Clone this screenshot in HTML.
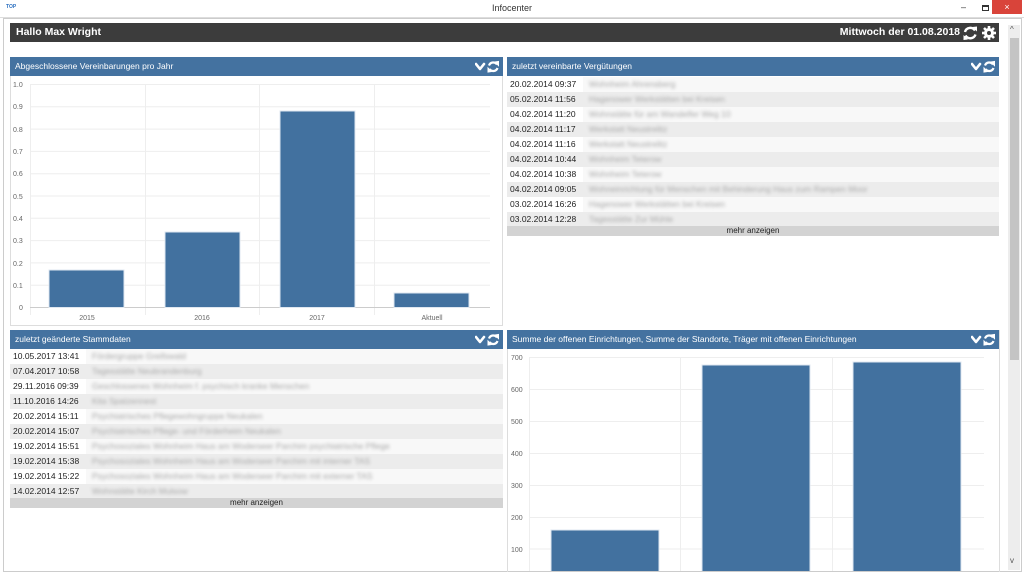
<!DOCTYPE html>
<html><head><meta charset="utf-8"><style>
*{margin:0;padding:0;box-sizing:border-box}
body{width:1024px;height:576px;overflow:hidden;background:#fff;font-family:"Liberation Sans",sans-serif;position:relative}
.a{position:absolute}
.hd{background:#4472a0;color:#fff;font-size:8.5px;line-height:19px;padding-left:5px}
.ic{position:absolute;right:4px;top:3px;width:24px;height:13px}
.row{position:absolute;height:15px;font-size:8.5px;line-height:15px;color:#222}
.row .d{position:absolute;left:0;top:0;width:76px;height:15px;padding-left:3px}
.row .t{position:absolute;left:82px;top:0;color:#a8a8a8;filter:blur(1.6px);white-space:nowrap}
.more{position:absolute;height:10px;background:#d3d3d3;font-size:8px;line-height:10px;text-align:center;color:#222}
</style></head><body>
<svg width="0" height="0" style="position:absolute"><defs>
<g id="ico"><path d="M1 4 L5 9 L9 4" stroke="#fff" stroke-width="2.6" fill="none" stroke-linecap="round" stroke-linejoin="round"/>
<path d="M14 5.5 A4.5 4.5 0 0 1 22 4.5 M22.5 8 A4.5 4.5 0 0 1 14.5 9" stroke="#fff" stroke-width="2.2" fill="none"/>
<path d="M20 2 L23.5 5.5 L23.5 1.5Z M16.5 11.5 L13 8 L13 12Z" fill="#fff" stroke="#fff" stroke-width="1"/></g>
</defs></svg>
<!-- window frame -->
<div class="a" style="left:0;top:0;width:1024px;height:18px;background:#fff;border-bottom:1px solid #ddd"></div>
<div class="a" style="left:6px;top:4px;font-size:5px;color:#2a6fc0;font-weight:bold">TOP</div>
<div class="a" style="left:0;top:3px;width:1024px;text-align:center;font-size:9px;color:#333">Infocenter</div>
<div class="a" style="left:961px;top:2px;font-size:9px;color:#333">–</div>
<div class="a" style="left:982px;top:5px;width:7px;height:6px;border:1px solid #333;border-top-width:2px"></div>
<div class="a" style="left:992px;top:0;width:30px;height:14px;background:#d9443a;color:#fff;font-size:9px;text-align:center;line-height:14px">×</div>
<div class="a" style="left:3px;top:18px;width:1019px;height:554px;border:1px solid #ccc"></div>
<!-- scrollbar -->
<div class="a" style="left:1008px;top:25px;width:12px;height:545px;background:#ededed"></div>
<div class="a" style="left:1010px;top:38px;width:9px;height:322px;background:#c4c4c4"></div>
<div class="a" style="left:1010px;top:25px;font-size:8px;color:#555">^</div>
<div class="a" style="left:1010px;top:556px;font-size:8px;color:#555">v</div>
<!-- top bar -->
<div class="a" style="left:10px;top:23px;width:989px;height:19px;background:#3c3c3c;color:#fff;font-weight:bold;font-size:10.5px;line-height:19px;padding-left:6px">Hallo Max Wright</div>
<div class="a" style="left:800px;top:23px;width:160px;text-align:right;color:#fff;font-weight:bold;font-size:10.5px;line-height:19px">Mittwoch der 01.08.2018</div>
<svg class="a" style="left:963px;top:25px" width="36" height="16">
<path d="M2 7 A5.5 5.5 0 0 1 12 5.5 M12.5 9.5 A5.5 5.5 0 0 1 2.5 10.5" stroke="#fff" stroke-width="2.4" fill="none"/>
<path d="M9.5 2 L14 6.5 L14 1.5Z M5 14.5 L0.5 10 L0.5 15Z" fill="#fff"/>
<circle cx="26" cy="8" r="5" fill="#fff"/><circle cx="26" cy="8" r="2" fill="#3c3c3c"/>
<g stroke="#fff" stroke-width="2.6"><line x1="26" y1="1" x2="26" y2="15"/><line x1="19" y1="8" x2="33" y2="8"/><line x1="21" y1="3" x2="31" y2="13"/><line x1="31" y1="3" x2="21" y2="13"/></g>
<circle cx="26" cy="8" r="2" fill="#3c3c3c"/>
</svg>

<!-- panel 1 -->
<div class="a" style="left:10px;top:57px;width:493px;height:269px;border:1px solid #ddd"></div>
<div class="a hd" style="left:10px;top:57px;width:493px;height:19px">Abgeschlossene Vereinbarungen pro Jahr<svg class="ic"><use href="#ico"/></svg></div>
<svg class="a" style="left:10px;top:77px" width="493" height="248">
<g stroke="#eee" stroke-width="1">
<line x1="20" x2="480" y1="7.5" y2="7.5"/><line x1="20" x2="480" y1="29.8" y2="29.8"/><line x1="20" x2="480" y1="52.1" y2="52.1"/><line x1="20" x2="480" y1="74.4" y2="74.4"/><line x1="20" x2="480" y1="96.7" y2="96.7"/><line x1="20" x2="480" y1="119" y2="119"/><line x1="20" x2="480" y1="141.3" y2="141.3"/><line x1="20" x2="480" y1="163.6" y2="163.6"/><line x1="20" x2="480" y1="185.9" y2="185.9"/><line x1="20" x2="480" y1="208.2" y2="208.2"/>
<line x1="20.5" x2="20.5" y1="7" y2="238"/><line x1="135.5" x2="135.5" y1="7" y2="238"/><line x1="249.5" x2="249.5" y1="7" y2="238"/><line x1="364.5" x2="364.5" y1="7" y2="238"/>
</g>
<line x1="20" x2="480" y1="230.5" y2="230.5" stroke="#ccc"/>
<g fill="#42719f" stroke="#dfe7f0" stroke-width="1">
<rect x="39" y="193" width="75" height="37.5"/><rect x="155" y="155" width="75" height="75.5"/><rect x="270" y="34" width="75" height="196.5"/><rect x="384" y="216" width="75" height="14.5"/>
</g>
<g font-size="7" fill="#666" font-family="Liberation Sans">
<text x="3" y="10">1.0</text><text x="3" y="32">0.9</text><text x="3" y="55">0.8</text><text x="3" y="77">0.7</text><text x="3" y="99">0.6</text><text x="3" y="122">0.5</text><text x="3" y="144">0.4</text><text x="3" y="166">0.3</text><text x="3" y="189">0.2</text><text x="3" y="211">0.1</text><text x="9" y="233">0</text>
<text x="77" y="243" text-anchor="middle">2015</text><text x="192" y="243" text-anchor="middle">2016</text><text x="307" y="243" text-anchor="middle">2017</text><text x="422" y="243" text-anchor="middle">Aktuell</text>
</g>
</svg>

<!-- panel 2 -->
<div class="a hd" style="left:507px;top:57px;width:492px;height:19px">zuletzt vereinbarte Vergütungen<svg class="ic"><use href="#ico"/></svg></div>
<div id="p2"></div>
<div class="more" style="left:507px;top:226px;width:492px">mehr anzeigen</div>

<!-- panel 3 -->
<div class="a hd" style="left:10px;top:330px;width:493px;height:19px">zuletzt geänderte Stammdaten<svg class="ic"><use href="#ico"/></svg></div>
<div id="p3"></div>
<div class="more" style="left:10px;top:498px;width:493px">mehr anzeigen</div>

<!-- panel 4 -->
<div class="a" style="left:507px;top:330px;width:493px;height:242px;border:1px solid #ddd;border-bottom:none"></div>
<div class="a hd" style="left:507px;top:330px;width:492px;height:19px">Summe der offenen Einrichtungen, Summe der Standorte, Träger mit offenen Einrichtungen<svg class="ic"><use href="#ico"/></svg></div>
<svg class="a" style="left:507px;top:349px" width="492" height="222">
<g stroke="#eee"><line x1="22" x2="477" y1="8.5" y2="8.5"/><line x1="22" x2="477" y1="40.5" y2="40.5"/><line x1="22" x2="477" y1="72.5" y2="72.5"/><line x1="22" x2="477" y1="104.5" y2="104.5"/><line x1="22" x2="477" y1="136.5" y2="136.5"/><line x1="22" x2="477" y1="168.5" y2="168.5"/><line x1="22" x2="477" y1="200" y2="200"/>
<line x1="22.5" x2="22.5" y1="8" y2="224"/><line x1="173.5" x2="173.5" y1="8" y2="224"/><line x1="325.5" x2="325.5" y1="8" y2="224"/></g>
<g fill="#42719f" stroke="#dfe7f0"><rect x="44" y="181" width="108" height="50"/><rect x="195" y="16" width="108" height="215"/><rect x="346" y="13" width="108" height="218"/></g>
<g font-size="7" fill="#666" font-family="Liberation Sans"><text x="4" y="11">700</text><text x="4" y="43">600</text><text x="4" y="75">500</text><text x="4" y="107">400</text><text x="4" y="139">300</text><text x="4" y="171">200</text><text x="4" y="203">100</text></g>
</svg>

<script>
function rows(id,x,y,w,data){var h='';data.forEach(function(r,i){var odd=i%2==0;h+='<div class="row" style="left:'+x+'px;top:'+(y+i*15)+'px;width:'+w+'px;background:'+(odd?'#f8f8f8':'#ececec')+'"><div class="d" style="background:'+(odd?'#fff':'#ececec')+'">'+r[0]+'</div><div class="t">'+r[1]+'</div></div>'});document.getElementById(id).innerHTML=h}
rows('p2',507,77,492,[["20.02.2014 09:37","Wohnheim Ahrensberg"],["05.02.2014 11:56","Hagenower Werkstätten bei Kreisen"],["04.02.2014 11:20","Wohnstätte für am Wandelfer Weg 10"],["04.02.2014 11:17","Werkstatt Neustrelitz"],["04.02.2014 11:16","Werkstatt Neustrelitz"],["04.02.2014 10:44","Wohnheim Teterow"],["04.02.2014 10:38","Wohnheim Teterow"],["04.02.2014 09:05","Wohneinrichtung für Menschen mit Behinderung Haus zum Rampen Moor"],["03.02.2014 16:26","Hagenower Werkstätten bei Kreisen"],["03.02.2014 12:28","Tagesstätte Zur Mühle"]]);
rows('p3',10,349,493,[["10.05.2017 13:41","Fördergruppe Greifswald"],["07.04.2017 10:58","Tagesstätte Neubrandenburg"],["29.11.2016 09:39","Geschlossenes Wohnheim f. psychisch kranke Menschen"],["11.10.2016 14:26","Kita Spatzennest"],["20.02.2014 15:11","Psychiatrisches Pflegewohngruppe Neukalen"],["20.02.2014 15:07","Psychiatrisches Pflege- und Förderheim Neukalen"],["19.02.2014 15:51","Psychosoziales Wohnheim Haus am Woderseer Parchim psychiatrische Pflege"],["19.02.2014 15:38","Psychosoziales Wohnheim Haus am Woderseer Parchim mit interner TAS"],["19.02.2014 15:22","Psychosoziales Wohnheim Haus am Woderseer Parchim mit externer TAS"],["14.02.2014 12:57","Wohnstätte Kirch Mulsow"]]);
</script>
</body></html>
